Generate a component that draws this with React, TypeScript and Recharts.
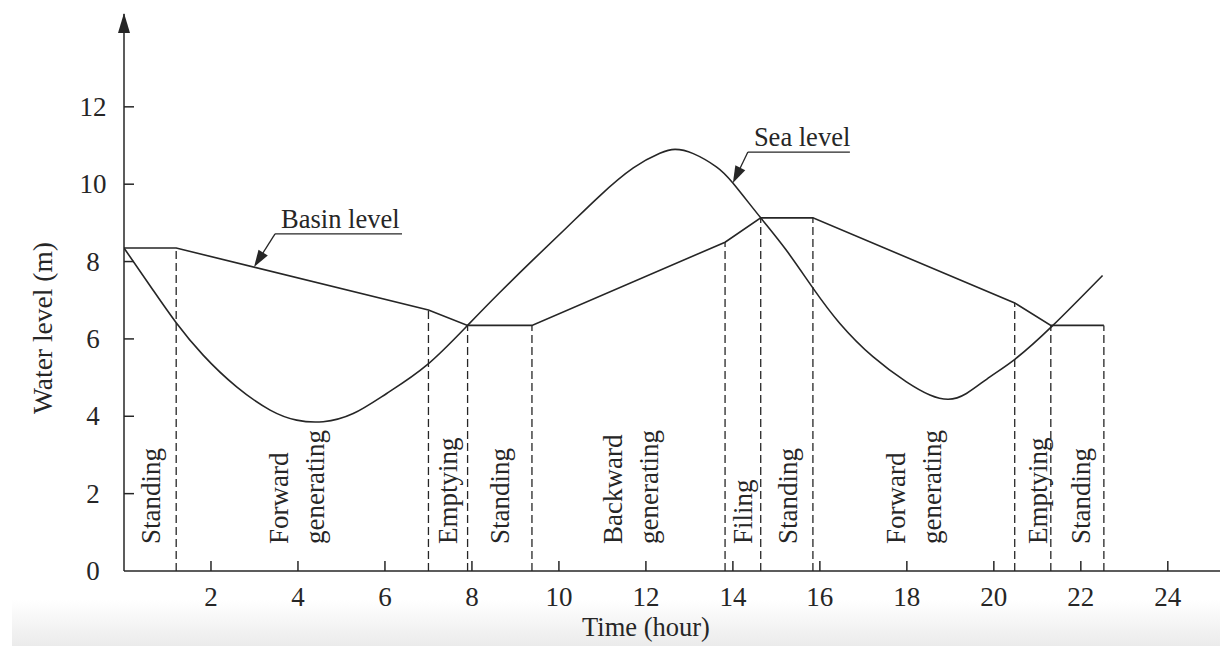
import { LineChart, Line, XAxis, YAxis, ReferenceLine, ReferenceDot } from "recharts";

// sea level (tide), hours -> metres
const seaHours = [0, 0.67, 1.2, 1.82, 2.59, 3.36, 3.97, 4.58, 5.27, 6.04, 6.96, 7.9, 8.64, 9.41, 10.18, 10.94, 11.71, 12.32, 12.67, 13.09, 13.62, 14.0, 14.64, 15.23, 15.85, 16.46, 17.22, 17.99, 18.53, 18.95, 19.37, 19.91, 20.49, 21.34, 22.5];
const seaLevel = [8.35, 7.26, 6.42, 5.58, 4.76, 4.16, 3.9, 3.86, 4.07, 4.59, 5.32, 6.35, 7.2, 8.05, 8.88, 9.7, 10.42, 10.8, 10.9, 10.79, 10.45, 10.03, 9.13, 8.29, 7.3, 6.4, 5.54, 4.89, 4.55, 4.44, 4.59, 5.02, 5.48, 6.33, 7.64];

// basin level, piecewise linear between operating phase changes
const basinHours = [0, 1.2, 7.0, 7.9, 9.38, 13.82, 14.64, 15.84, 20.48, 21.31, 22.53];
const basinLevel = [8.35, 8.35, 6.75, 6.35, 6.35, 8.5, 9.13, 9.13, 6.93, 6.35, 6.35];

const phaseNames = [["Standing"], ["Forward", "generating"], ["Emptying"], ["Standing"], ["Backward", "generating"], ["Filing"], ["Standing"], ["Forward", "generating"], ["Emptying"], ["Standing"]];
const phaseCenters = [0.62, 3.98, 7.45, 8.64, 11.66, 14.23, 15.26, 18.17, 21.01, 22.0];

const xTicks = [2, 4, 6, 8, 10, 12, 14, 16, 18, 20, 22, 24];
const yTicks = [0, 2, 4, 6, 8, 10, 12];

const seaData = seaHours.map((h, i) => ({ h, v: seaLevel[i] }));
const basinData = basinHours.map((h, i) => ({ h, v: basinLevel[i] }));

const font = "'Liberation Serif', 'Times New Roman', serif";
const ink = "#262626";

function arrowHead(tx: number, ty: number, fx: number, fy: number, len = 17, half = 5.5) {
  const dx = tx - fx;
  const dy = ty - fy;
  const d = Math.sqrt(dx * dx + dy * dy);
  const ux = dx / d;
  const uy = dy / d;
  const bx = tx - ux * len;
  const by = ty - uy * len;
  return `${tx},${ty} ${bx - uy * half},${by + ux * half} ${bx + uy * half},${by - ux * half}`;
}

const XTick = (props: any) => {
  const { x, y, payload } = props;
  return (
    <g>
      <line x1={x} y1={y} x2={x} y2={y - 10} stroke={ink} strokeWidth={1.5} />
      <text x={x} y={y + 26} textAnchor="middle" dominantBaseline="central" fontFamily={font} fontSize={27} fill={ink}>
        {payload.value}
      </text>
    </g>
  );
};

const YTick = (props: any) => {
  const { x, y, payload } = props;
  return (
    <g>
      {payload.value !== 0 && <line x1={x} y1={y} x2={x + 10} y2={y} stroke={ink} strokeWidth={1.5} />}
      <text x={x - 31} y={y} textAnchor="middle" dominantBaseline="central" fontFamily={font} fontSize={27} fill={ink}>
        {payload.value}
      </text>
    </g>
  );
};

const callout = (text: string, ox: number, oy: number, len: number) => (p: any) => {
  const { cx, cy } = p;
  const sx = cx + ox;
  const sy = cy + oy;
  const d = Math.hypot(ox, oy);
  return (
    <g>
      <line x1={sx} y1={sy} x2={cx + (ox * 14) / d} y2={cy + (oy * 14) / d} stroke={ink} strokeWidth={1.3} />
      <polygon points={arrowHead(cx, cy, sx, sy)} fill={ink} />
      <line x1={sx} y1={sy} x2={sx + len} y2={sy} stroke={ink} strokeWidth={1.3} />
      <text x={sx + 6} y={sy - 6} fontFamily={font} fontSize={26.5} fill={ink}>
        {text}
      </text>
    </g>
  );
};

const phaseLabel = (lines: string[]) => (p: any) => {
  const { cx, cy } = p;
  return (
    <g>
      {lines.map((t, i) => {
        const x = cx + (i - (lines.length - 1) / 2) * 36;
        return (
          <text key={t} x={x} y={cy} transform={`rotate(-90 ${x} ${cy})`} dominantBaseline="central" textAnchor="start" fontFamily={font} fontSize={27} fill={ink}>
            {t}
          </text>
        );
      })}
    </g>
  );
};

const yArrow = (p: any) => {
  const { cx, cy } = p;
  return <polygon points={`${cx},${cy - 1} ${cx - 6},${cy + 19} ${cx + 6},${cy + 19}`} fill={ink} />;
};

export default function App() {
  return (
    <div style={{ position: "absolute", left: 0, top: 0, width: 1220, height: 646, background: "#fff" }}>
      <div style={{ position: "absolute", left: 12, top: 600, width: 1208, height: 46, background: "linear-gradient(to bottom, #ffffff, #ebebeb)" }} />
      <div style={{ position: "absolute", left: 0, top: 0 }}>
        <LineChart width={1220} height={646} margin={{ top: 14, right: 0, bottom: 74, left: 123 }}>
          <XAxis
            type="number"
            dataKey="h"
            domain={[0, 25.2]}
            ticks={xTicks}
            interval={0}
            height={1}
            tickSize={0}
            tickMargin={0}
            tick={<XTick />}
            axisLine={{ stroke: ink, strokeWidth: 1.5 }}
            allowDataOverflow
          />
          <YAxis
            type="number"
            domain={[0, 14.4]}
            ticks={yTicks}
            interval={0}
            width={1}
            tickSize={0}
            tickMargin={0}
            tick={<YTick />}
            axisLine={{ stroke: ink, strokeWidth: 1.5 }}
            allowDataOverflow
          />
          {basinHours.slice(1).map((h, i) => (
            <ReferenceLine
              key={"d" + h}
              segment={[{ x: h, y: 0 }, { x: h, y: basinLevel[i + 1] }]}
              stroke={ink}
              strokeWidth={1.3}
              strokeDasharray="8 4"
            />
          ))}
          <Line data={seaData} dataKey="v" type="natural" stroke={ink} strokeWidth={1.6} dot={false} isAnimationActive={false} />
          <Line data={basinData} dataKey="v" type="linear" stroke={ink} strokeWidth={1.6} dot={false} isAnimationActive={false} />
          {phaseCenters.map((h, i) => (
            <ReferenceDot key={"p" + i} x={h} y={0.7} r={0} shape={phaseLabel(phaseNames[i])} />
          ))}
          <ReferenceDot x={2.99} y={7.86} r={0} shape={callout("Basin level", 21, -33, 127)} />
          <ReferenceDot x={14.0} y={10.03} r={0} shape={callout("Sea level", 15, -31, 102)} />
          <ReferenceDot x={0} y={14.4} r={0} shape={yArrow} ifOverflow="visible" />
        </LineChart>
      </div>
      <svg width={1220} height={646} style={{ position: "absolute", left: 0, top: 0, pointerEvents: "none" }}>
        <text x={42} y={328} transform="rotate(-90 42 328)" textAnchor="middle" dominantBaseline="central" fontFamily={font} fontSize={27.5} fill={ink}>
          Water level (m)
        </text>
        <text x={646} y={636} textAnchor="middle" fontFamily={font} fontSize={26.5} fill={ink}>
          Time (hour)
        </text>
      </svg>
    </div>
  );
}
